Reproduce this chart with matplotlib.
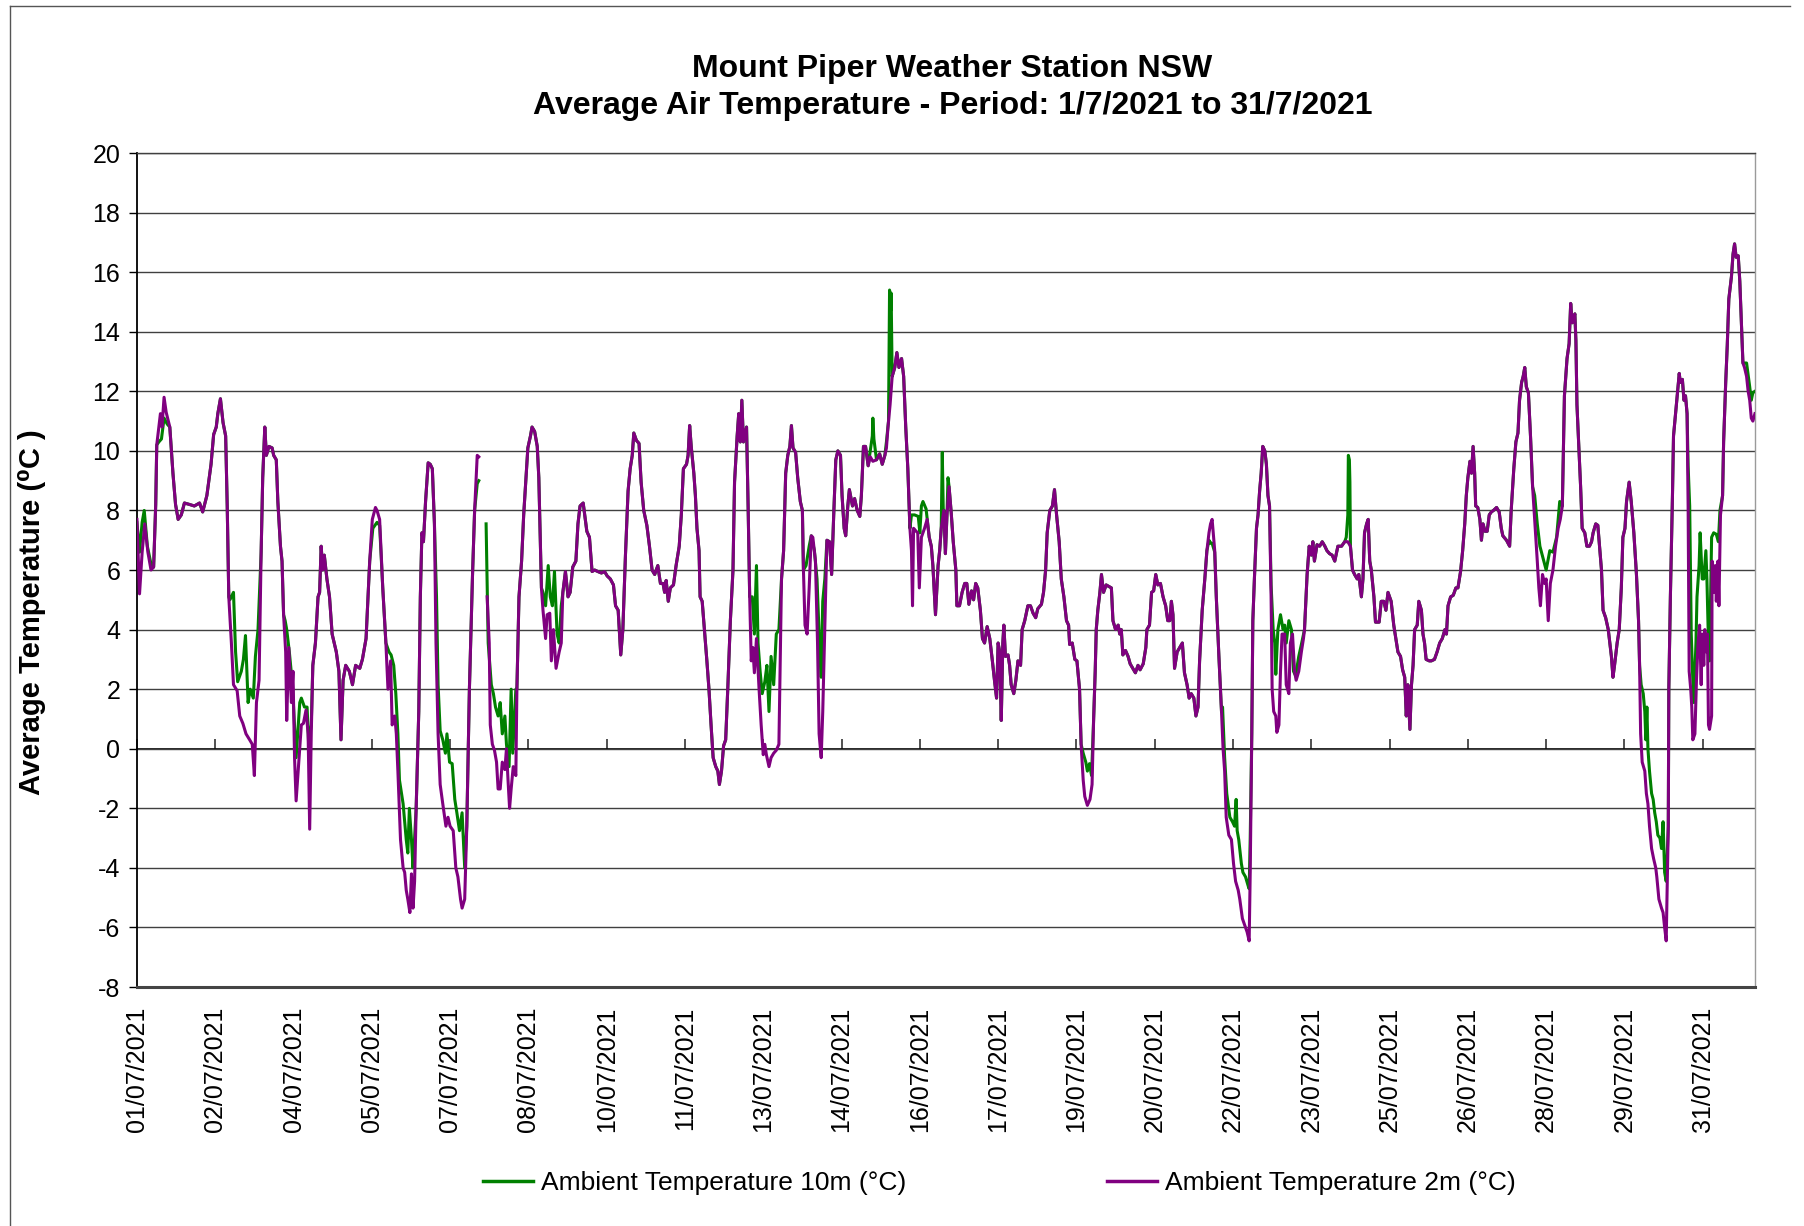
import datetime as dt
import numpy as np
import matplotlib
matplotlib.use("Agg")
import matplotlib.pyplot as plt
from matplotlib.lines import Line2D

plt.rcParams['font.family'] = ['Liberation Sans', 'DejaVu Sans']
plt.rcParams['axes.unicode_minus'] = False

# 2m temperature readings: (days since 1/7/2021 00:00, deg C)
temp_2m = [
    (0.00, 7.7), (0.05, 5.2), (0.10, 6.6), (0.15, 7.55), (0.21, 6.6), (0.27, 6.0), (0.32, 6.1),
    (0.36, 8.2), (0.38, 10.2), (0.45, 11.25), (0.48, 10.8), (0.52, 11.8), (0.56, 11.3), (0.63, 10.8),
    (0.69, 9.25), (0.74, 8.2), (0.79, 7.7), (0.85, 7.85), (0.91, 8.25), (1.01, 8.2), (1.10, 8.15),
    (1.20, 8.25), (1.26, 7.95), (1.34, 8.5), (1.42, 9.55), (1.47, 10.55), (1.52, 10.8), (1.55, 11.25),
    (1.60, 11.75), (1.65, 10.95), (1.70, 10.5), (1.73, 8.15), (1.76, 5.1), (1.81, 3.55), (1.85, 2.15),
    (1.92, 1.95), (1.97, 1.1), (2.03, 0.85), (2.09, 0.5), (2.16, 0.3), (2.21, 0.15), (2.25, -0.9),
    (2.29, 1.55), (2.34, 2.3), (2.38, 6.6), (2.41, 9.1), (2.45, 10.8), (2.48, 9.85), (2.53, 10.15),
    (2.59, 10.1), (2.62, 9.85), (2.67, 9.7), (2.70, 8.3), (2.75, 6.8), (2.78, 6.3), (2.81, 4.5),
    (2.85, 3.25), (2.87, 0.95), (2.91, 3.4), (2.96, 1.55), (2.99, 2.6), (3.02, -0.3), (3.05, -1.75),
    (3.10, -0.45), (3.15, 0.8), (3.19, 0.85), (3.24, 1.3), (3.28, 0.5), (3.31, -2.7), (3.34, 0.5),
    (3.37, 2.8), (3.42, 3.55), (3.47, 5.1), (3.50, 5.25), (3.53, 6.8), (3.56, 6.0), (3.59, 6.5),
    (3.64, 5.7), (3.69, 5.1), (3.74, 3.85), (3.82, 3.25), (3.87, 2.6), (3.91, 0.3), (3.95, 2.3),
    (4.00, 2.8), (4.07, 2.6), (4.13, 2.15), (4.19, 2.8), (4.27, 2.7), (4.32, 3.0), (4.39, 3.7),
    (4.46, 6.3), (4.51, 7.7), (4.57, 8.1), (4.60, 8.0), (4.65, 7.7), (4.71, 5.4), (4.77, 3.55),
    (4.81, 2.0), (4.86, 2.95), (4.89, 0.8), (4.94, 1.1), (4.97, 0.5), (5.00, -0.75), (5.05, -3.05),
    (5.10, -4.0), (5.13, -4.15), (5.16, -4.75), (5.19, -5.05), (5.23, -5.5), (5.26, -4.2), (5.29, -5.35),
    (5.32, -4.45), (5.35, -2.0), (5.40, 1.25), (5.43, 5.1), (5.46, 7.25), (5.49, 6.95), (5.53, 8.3),
    (5.58, 9.6), (5.62, 9.55), (5.66, 9.4), (5.70, 7.55), (5.73, 3.55), (5.77, 0.5), (5.81, -1.2),
    (5.86, -1.85), (5.92, -2.6), (5.96, -2.3), (6.00, -2.6), (6.06, -2.75), (6.11, -4.0), (6.15, -4.3),
    (6.20, -5.05), (6.23, -5.35), (6.28, -5.05), (6.32, -2.6), (6.37, 2.0), (6.43, 5.85), (6.47, 8.0),
    (6.52, 9.85), (6.55, 9.8), (6.62, np.nan), (6.71, 5.1), (6.75, 3.55), (6.77, 0.8), (6.81, 0.15),
    (6.85, -0.05), (6.89, -0.45), (6.92, -1.35), (6.96, -1.35), (7.00, -0.45), (7.05, -0.7), (7.08, 0.0),
    (7.11, -1.05), (7.14, -2.0), (7.17, -1.35), (7.21, -0.6), (7.26, -0.9), (7.28, 2.0), (7.32, 5.1),
    (7.37, 6.3), (7.41, 7.85), (7.45, 9.0), (7.49, 10.1), (7.54, 10.5), (7.57, 10.8), (7.62, 10.65),
    (7.67, 10.15), (7.70, 9.1), (7.75, 5.4), (7.78, 4.65), (7.83, 3.7), (7.86, 4.5), (7.91, 4.55),
    (7.94, 2.95), (7.98, 4.0), (8.03, 2.7), (8.09, 3.25), (8.13, 3.55), (8.16, 5.25), (8.21, 5.95),
    (8.26, 5.1), (8.30, 5.25), (8.35, 6.1), (8.41, 6.3), (8.45, 7.55), (8.49, 8.15), (8.55, 8.25),
    (8.58, 7.85), (8.62, 7.3), (8.67, 7.1), (8.72, 5.95), (8.77, 6.0), (8.83, 5.95), (8.90, 5.9),
    (8.96, 5.95), (9.01, 5.8), (9.07, 5.7), (9.13, 5.5), (9.17, 4.8), (9.22, 4.65), (9.27, 3.15),
    (9.31, 4.0), (9.36, 6.5), (9.41, 8.65), (9.45, 9.4), (9.49, 9.85), (9.52, 10.6), (9.57, 10.35),
    (9.62, 10.25), (9.66, 8.95), (9.71, 8.0), (9.77, 7.5), (9.82, 6.8), (9.87, 6.0), (9.92, 5.85),
    (9.98, 6.15), (10.03, 5.55), (10.08, 5.55), (10.11, 5.25), (10.14, 5.65), (10.18, 4.95), (10.22, 5.4),
    (10.28, 5.5), (10.33, 6.15), (10.39, 6.8), (10.43, 7.85), (10.47, 9.4), (10.53, 9.55), (10.56, 9.85),
    (10.59, 10.85), (10.62, 10.15), (10.67, 9.25), (10.70, 8.5), (10.73, 7.4), (10.77, 6.65), (10.79, 5.1),
    (10.83, 4.95), (10.88, 3.85), (10.92, 2.95), (10.96, 2.0), (11.00, 0.8), (11.04, -0.3), (11.09, -0.6),
    (11.13, -0.75), (11.16, -1.2), (11.20, -0.75), (11.24, 0.1), (11.28, 0.3), (11.32, 2.0), (11.37, 4.3),
    (11.42, 6.0), (11.45, 8.95), (11.50, 10.5), (11.53, 11.25), (11.56, 10.3), (11.59, 11.7), (11.62, 10.3),
    (11.68, 10.8), (11.71, 8.15), (11.74, 5.1), (11.77, 2.95), (11.80, 3.4), (11.83, 2.55), (11.87, 3.7),
    (11.92, 2.0), (11.96, 0.8), (12.00, -0.2), (12.03, 0.15), (12.06, -0.2), (12.11, -0.6), (12.15, -0.3),
    (12.20, -0.15), (12.25, -0.05), (12.30, 0.15), (12.33, 3.55), (12.35, 5.7), (12.39, 6.65), (12.43, 9.25),
    (12.47, 9.85), (12.51, 10.15), (12.54, 10.85), (12.57, 10.1), (12.62, 9.95), (12.66, 9.1), (12.71, 8.3),
    (12.75, 8.0), (12.77, 6.0), (12.80, 4.15), (12.84, 3.85), (12.88, 5.4), (12.92, 7.15), (12.95, 7.1),
    (13.00, 6.3), (13.04, 3.55), (13.07, 0.5), (13.11, -0.3), (13.14, 1.25), (13.18, 4.15), (13.22, 7.0),
    (13.27, 6.95), (13.31, 5.85), (13.35, 7.85), (13.39, 9.7), (13.43, 10.0), (13.48, 9.85), (13.51, 8.5),
    (13.55, 7.4), (13.58, 7.15), (13.62, 8.15), (13.65, 8.7), (13.71, 8.15), (13.75, 8.4), (13.80, 8.0),
    (13.85, 7.8), (13.88, 8.5), (13.92, 10.15), (13.96, 10.15), (14.01, 9.5), (14.05, 9.8), (14.10, 9.65),
    (14.17, 9.7), (14.23, 9.9), (14.28, 9.55), (14.33, 9.85), (14.36, 10.1), (14.39, 10.8), (14.43, 11.55),
    (14.47, 12.5), (14.52, 12.8), (14.56, 13.3), (14.60, 12.8), (14.65, 13.1), (14.69, 12.5), (14.73, 10.8),
    (14.77, 9.4), (14.81, 7.4), (14.84, 6.65), (14.86, 4.8), (14.88, 7.4), (14.93, 7.3), (14.96, 7.25),
    (14.99, 5.4), (15.03, 7.1), (15.09, 7.4), (15.14, 7.7), (15.18, 7.1), (15.22, 6.8), (15.25, 6.15),
    (15.30, 4.5), (15.35, 6.15), (15.38, 6.65), (15.41, 7.4), (15.46, 8.0), (15.49, 6.55), (15.52, 7.85),
    (15.56, 8.8), (15.60, 7.95), (15.64, 6.95), (15.69, 6.0), (15.71, 4.8), (15.76, 4.8), (15.81, 5.25),
    (15.86, 5.55), (15.90, 5.55), (15.94, 4.85), (15.99, 5.3), (16.03, 5.0), (16.07, 5.55), (16.11, 5.4),
    (16.16, 4.65), (16.20, 3.7), (16.24, 3.55), (16.29, 4.1), (16.34, 3.7), (16.39, 2.95), (16.43, 2.3),
    (16.47, 1.7), (16.50, 3.55), (16.53, 3.25), (16.56, 0.95), (16.59, 3.55), (16.61, 4.15), (16.64, 3.1),
    (16.69, 3.15), (16.72, 2.8), (16.75, 2.15), (16.80, 1.85), (16.84, 2.3), (16.88, 2.95), (16.93, 2.8),
    (16.96, 4.0), (17.01, 4.3), (17.07, 4.8), (17.12, 4.8), (17.17, 4.55), (17.22, 4.4), (17.26, 4.7),
    (17.33, 4.85), (17.37, 5.25), (17.41, 6.0), (17.44, 7.25), (17.49, 8.0), (17.54, 8.15), (17.58, 8.7),
    (17.62, 7.85), (17.67, 6.95), (17.71, 5.7), (17.76, 5.1), (17.81, 4.3), (17.85, 4.15), (17.87, 3.5),
    (17.92, 3.55), (17.97, 3.0), (18.01, 2.95), (18.06, 2.0), (18.09, 0.15), (18.13, -1.05), (18.16, -1.6),
    (18.21, -1.9), (18.26, -1.7), (18.30, -1.2), (18.33, 1.0), (18.36, 2.6), (18.38, 4.0), (18.41, 4.65),
    (18.45, 5.25), (18.48, 5.85), (18.52, 5.25), (18.57, 5.5), (18.62, 5.45), (18.67, 5.4), (18.70, 4.3),
    (18.75, 4.0), (18.80, 4.15), (18.83, 3.85), (18.86, 4.0), (18.89, 3.15), (18.94, 3.3), (18.99, 3.1),
    (19.03, 2.85), (19.08, 2.7), (19.13, 2.55), (19.18, 2.8), (19.22, 2.65), (19.28, 2.85), (19.33, 3.4),
    (19.35, 4.0), (19.40, 4.15), (19.44, 5.25), (19.48, 5.3), (19.52, 5.85), (19.56, 5.5), (19.61, 5.55),
    (19.66, 5.1), (19.71, 4.8), (19.75, 4.3), (19.79, 4.3), (19.82, 4.95), (19.85, 4.5), (19.88, 2.7),
    (19.93, 3.25), (19.98, 3.4), (20.03, 3.55), (20.07, 2.55), (20.12, 2.15), (20.16, 1.7), (20.20, 1.85),
    (20.25, 1.7), (20.29, 1.1), (20.33, 1.4), (20.36, 2.95), (20.41, 4.65), (20.46, 5.7), (20.50, 6.65),
    (20.54, 7.25), (20.57, 7.55), (20.60, 7.7), (20.65, 6.65), (20.68, 5.1), (20.73, 3.1), (20.78, 1.25),
    (20.81, 0.0), (20.84, -0.75), (20.87, -2.3), (20.92, -2.9), (20.97, -3.05), (21.01, -3.85), (21.05, -4.45),
    (21.10, -4.75), (21.13, -5.05), (21.18, -5.7), (21.22, -5.9), (21.27, -6.15), (21.31, -6.45), (21.33, -4.15),
    (21.36, 0.5), (21.38, 4.3), (21.41, 5.7), (21.45, 7.4), (21.48, 7.85), (21.51, 8.65), (21.54, 9.25),
    (21.57, 10.15), (21.61, 10.0), (21.64, 9.55), (21.67, 8.5), (21.70, 8.15), (21.73, 5.1), (21.75, 2.0),
    (21.78, 1.25), (21.82, 1.1), (21.84, 0.55), (21.88, 0.8), (21.91, 2.6), (21.94, 3.85), (21.99, 3.85),
    (22.02, 2.15), (22.07, 1.85), (22.10, 3.55), (22.14, 3.85), (22.18, 2.6), (22.21, 2.3), (22.26, 2.6),
    (22.31, 3.25), (22.35, 3.7), (22.37, 4.0), (22.42, 5.85), (22.46, 6.8), (22.50, 6.5), (22.53, 6.95),
    (22.56, 6.3), (22.61, 6.85), (22.66, 6.8), (22.71, 6.95), (22.76, 6.8), (22.80, 6.65), (22.85, 6.55),
    (22.90, 6.5), (22.95, 6.3), (23.01, 6.8), (23.08, 6.8), (23.14, 6.95), (23.20, 6.95), (23.25, 6.8),
    (23.29, 6.0), (23.33, 5.85), (23.38, 5.7), (23.41, 5.85), (23.46, 5.1), (23.49, 5.7), (23.52, 7.25),
    (23.56, 7.55), (23.59, 7.7), (23.62, 6.3), (23.65, 6.0), (23.70, 5.1), (23.73, 4.25), (23.80, 4.25),
    (23.84, 4.95), (23.89, 4.95), (23.93, 4.65), (23.97, 5.25), (24.00, 5.1), (24.03, 4.95), (24.08, 4.15),
    (24.12, 3.7), (24.16, 3.25), (24.21, 3.1), (24.25, 2.65), (24.29, 2.4), (24.32, 1.1), (24.35, 2.15),
    (24.39, 0.65), (24.42, 2.15), (24.45, 2.8), (24.48, 4.0), (24.53, 4.15), (24.56, 4.95), (24.61, 4.65),
    (24.64, 3.85), (24.67, 3.55), (24.70, 3.0), (24.76, 2.95), (24.80, 2.95), (24.86, 3.0), (24.91, 3.25),
    (24.96, 3.55), (25.01, 3.7), (25.06, 4.0), (25.09, 3.85), (25.12, 4.8), (25.17, 5.1), (25.22, 5.15),
    (25.27, 5.4), (25.31, 5.4), (25.36, 5.95), (25.40, 6.65), (25.44, 7.55), (25.47, 8.5), (25.50, 9.1),
    (25.54, 9.65), (25.57, 9.25), (25.60, 10.15), (25.63, 9.25), (25.65, 8.15), (25.69, 8.1), (25.73, 7.7),
    (25.76, 7.0), (25.79, 7.55), (25.83, 7.3), (25.87, 7.3), (25.91, 7.85), (25.95, 7.95), (25.99, 8.0),
    (26.05, 8.1), (26.10, 7.95), (26.14, 7.4), (26.17, 7.15), (26.24, 7.0), (26.30, 6.8), (26.33, 8.0),
    (26.38, 9.4), (26.42, 10.3), (26.46, 10.6), (26.49, 11.7), (26.53, 12.3), (26.56, 12.5), (26.59, 12.8),
    (26.62, 12.15), (26.66, 11.95), (26.70, 10.5), (26.74, 8.8), (26.78, 7.7), (26.83, 6.3), (26.86, 5.4),
    (26.89, 4.8), (26.93, 5.85), (26.97, 5.55), (27.00, 5.7), (27.04, 4.3), (27.08, 5.55), (27.13, 6.0),
    (27.18, 6.8), (27.23, 7.4), (27.27, 7.7), (27.31, 8.15), (27.35, 11.85), (27.40, 13.1), (27.44, 13.6),
    (27.47, 14.95), (27.50, 14.3), (27.55, 14.6), (27.57, 13.7), (27.59, 11.55), (27.63, 10.0), (27.66, 8.8),
    (27.69, 7.4), (27.74, 7.25), (27.78, 6.8), (27.83, 6.8), (27.87, 6.95), (27.90, 7.25), (27.95, 7.55),
    (27.99, 7.5), (28.03, 6.65), (28.06, 6.0), (28.09, 4.65), (28.14, 4.4), (28.19, 4.0), (28.22, 3.55),
    (28.25, 3.1), (28.28, 2.4), (28.31, 2.8), (28.36, 3.55), (28.40, 4.0), (28.44, 5.4), (28.47, 7.1),
    (28.51, 7.4), (28.54, 8.3), (28.59, 8.95), (28.63, 8.3), (28.68, 7.25), (28.73, 5.85), (28.77, 4.3),
    (28.79, 2.8), (28.81, 0.5), (28.84, -0.45), (28.89, -0.75), (28.92, -1.5), (28.95, -1.85), (28.98, -2.6),
    (29.02, -3.35), (29.06, -3.7), (29.10, -4.0), (29.12, -4.3), (29.16, -5.05), (29.21, -5.35), (29.24, -5.5),
    (29.27, -6.0), (29.30, -6.45), (29.34, -2.6), (29.35, 2.0), (29.38, 5.1), (29.42, 8.5), (29.44, 10.5),
    (29.48, 11.25), (29.51, 11.85), (29.55, 12.6), (29.57, 12.3), (29.61, 12.4), (29.64, 11.7), (29.67, 11.85),
    (29.70, 11.25), (29.72, 8.15), (29.74, 2.6), (29.77, 2.0), (29.79, 1.4), (29.81, 0.3), (29.85, 0.5),
    (29.88, 2.3), (29.91, 3.55), (29.94, 4.15), (29.97, 2.15), (29.99, 3.85), (30.02, 2.8), (30.04, 4.0),
    (30.07, 3.25), (30.09, 3.85), (30.11, 0.8), (30.13, 0.65), (30.17, 1.1), (30.18, 6.3), (30.21, 5.25),
    (30.24, 6.15), (30.26, 4.95), (30.29, 6.3), (30.31, 4.8), (30.34, 7.85), (30.38, 8.5), (30.40, 10.3),
    (30.44, 12.3), (30.47, 13.55), (30.50, 15.1), (30.55, 15.85), (30.58, 16.6), (30.61, 16.95), (30.64, 16.5),
    (30.68, 16.55), (30.71, 15.7), (30.74, 14.3), (30.77, 12.95), (30.80, 12.8), (30.84, 12.5), (30.87, 12.0),
    (30.90, 11.7), (30.93, 11.1), (30.96, 11.0), (31.00, 11.25),
]

# 10m readings where they part from the 2m trace (elsewhere both read the same)
temp_10m_diff = [
    [(0.00, 7.6), (0.05, 6.6), (0.10, 7.6), (0.14, 8.0), (0.20, 6.8), (0.27, 6.2), (0.32, 6.1)],
    [(0.42, 10.3), (0.47, 10.4), (0.52, 11.1), (0.58, 10.9), (0.63, 10.8)],
    [(1.76, 5.1), (1.78, 5.0), (1.85, 5.25), (1.89, 3.25), (1.93, 2.25), (2.00, 2.6), (2.04, 3.0),
     (2.08, 3.8), (2.13, 1.55), (2.17, 2.0), (2.23, 1.7), (2.27, 3.1), (2.32, 4.0), (2.38, 6.6)],
    [(2.81, 4.5), (2.84, 4.3), (2.87, 4.0), (2.92, 3.25), (2.98, 2.15), (3.05, -0.3), (3.12, 1.55),
     (3.15, 1.7), (3.21, 1.4), (3.26, 1.4), (3.29, 0.15), (3.34, 0.8), (3.37, 2.8)],
    [(4.46, 6.3), (4.52, 7.4), (4.60, 7.6), (4.65, 7.5), (4.71, 5.4)],
    [(4.77, 3.55), (4.83, 3.25), (4.87, 3.15), (4.92, 2.8), (4.96, 1.85), (5.00, 0.5), (5.03, -1.05),
     (5.10, -1.85), (5.13, -2.45), (5.16, -3.05), (5.19, -3.5), (5.22, -2.0), (5.26, -3.05), (5.29, -4.0),
     (5.35, -2.0)],
    [(5.70, 7.55), (5.74, 5.1), (5.77, 2.15), (5.81, 0.6), (5.86, 0.3), (5.91, -0.15), (5.94, 0.5),
     (5.99, -0.45), (6.04, -0.5), (6.09, -1.7), (6.13, -2.15), (6.18, -2.75), (6.23, -2.15), (6.28, -4.0),
     (6.32, -2.6)],
    [(6.47, 8.0), (6.52, 8.9), (6.55, 9.0), (6.62, np.nan), (6.69, 7.55), (6.73, 3.55), (6.79, 2.15),
     (6.83, 1.85), (6.87, 1.4), (6.92, 1.1), (6.96, 1.55), (7.00, 0.5), (7.05, 1.1), (7.08, 0.15),
     (7.13, -0.6), (7.17, 2.0), (7.20, -0.15), (7.26, 2.0), (7.28, 2.0)],
    [(7.75, 5.4), (7.78, 5.25), (7.83, 4.8), (7.88, 6.15), (7.92, 5.1), (7.96, 4.8), (8.00, 5.95),
     (8.05, 3.85), (8.09, 3.55), (8.13, 4.8), (8.21, 5.95)],
    [(11.74, 5.1), (11.79, 5.1), (11.83, 3.85), (11.87, 6.15), (11.90, 3.55), (11.94, 2.6), (11.98, 1.85),
     (12.03, 2.25), (12.07, 2.8), (12.11, 1.25), (12.15, 3.1), (12.20, 2.15), (12.25, 3.85), (12.30, 4.0),
     (12.35, 5.7)],
    [(12.77, 6.0), (12.82, 6.15), (12.88, 6.8), (12.92, 7.15), (12.98, 6.65), (13.03, 5.7), (13.07, 3.85),
     (13.11, 2.4), (13.14, 4.95), (13.18, 5.7), (13.22, 7.0)],
    [(14.01, 9.5), (14.05, 10.0), (14.09, 10.5), (14.10, 11.1), (14.12, 10.4), (14.17, 9.7)],
    [(14.33, 9.85), (14.36, 10.3), (14.40, 11.0), (14.42, 15.4), (14.44, 14.7), (14.45, 15.3), (14.47, 12.5)],
    [(14.81, 7.4), (14.84, 7.85), (14.90, 7.85), (14.97, 7.8), (15.00, 7.25), (15.03, 8.15), (15.06, 8.3),
     (15.12, 8.05), (15.18, 7.1)],
    [(15.41, 7.4), (15.43, 9.95), (15.45, 7.9), (15.46, 8.0)],
    [(15.52, 7.85), (15.54, 9.1), (15.56, 8.8)],
    [(18.09, 0.15), (18.13, -0.15), (18.18, -0.45), (18.21, -0.75), (18.25, -0.5), (18.29, -0.9), (18.33, 1.0)],
    [(20.54, 7.0), (20.57, 6.9), (20.60, 6.9), (20.65, 6.6)],
    [(20.78, 1.25), (20.80, 1.4), (20.84, -0.3), (20.88, -1.5), (20.94, -2.3), (20.99, -2.45), (21.03, -2.6),
     (21.06, -1.7), (21.08, -2.75), (21.11, -3.05), (21.16, -3.85), (21.19, -4.15), (21.24, -4.3),
     (21.29, -4.6), (21.31, -4.7), (21.33, -3.0), (21.36, 0.5)],
    [(21.70, 8.15), (21.73, 5.5), (21.77, 4.0), (21.80, 3.55), (21.82, 2.5), (21.86, 4.0), (21.91, 4.5),
     (21.96, 4.0), (21.99, 4.15), (22.02, 3.55), (22.07, 4.3), (22.12, 4.0), (22.16, 2.6), (22.20, 2.45),
     (22.26, 3.1), (22.31, 3.5), (22.37, 4.0)],
    [(23.14, 6.95), (23.17, 7.1), (23.20, 7.85), (23.21, 9.85), (23.23, 9.7), (23.24, 8.95), (23.25, 6.8)],
    [(26.74, 8.8), (26.78, 8.5), (26.83, 7.55), (26.88, 6.8), (26.94, 6.4), (27.00, 6.0), (27.07, 6.65),
     (27.13, 6.6), (27.20, 7.1), (27.26, 8.3), (27.31, 8.15)],
    [(28.79, 2.8), (28.82, 2.15), (28.86, 1.85), (28.89, 1.25), (28.91, 0.3), (28.93, 1.4), (28.95, 0.0),
     (28.98, -0.75), (29.02, -1.5), (29.05, -1.7), (29.08, -2.15), (29.11, -2.45), (29.14, -2.9),
     (29.18, -3.0), (29.21, -3.35), (29.24, -2.45), (29.27, -4.15), (29.30, -4.45), (29.34, -2.6)],
    [(29.70, 11.25), (29.72, 9.5), (29.75, 8.15), (29.78, 3.85), (29.81, 2.3), (29.83, 1.55), (29.87, 3.55),
     (29.89, 5.1), (29.93, 6.15), (29.95, 7.25), (29.99, 5.7), (30.02, 5.7), (30.06, 6.65), (30.08, 5.7),
     (30.11, 3.55), (30.13, 2.95), (30.17, 7.1), (30.21, 7.25), (30.26, 7.2), (30.30, 6.95), (30.33, 8.0),
     (30.38, 8.5)],
    [(30.77, 12.95), (30.84, 12.95), (30.90, 12.15), (30.93, 11.7), (30.96, 11.95), (31.00, 12.0)],
]

y_ticks = list(range(-8, 21, 2))
x_ticks = [i * 1.5 for i in range(21)]
start = dt.datetime(2021, 7, 1)
x_labels = [(start + dt.timedelta(days=t)).strftime('%d/%m/%Y') for t in x_ticks]


def build_10m(base, segments):
    pts = list(base)
    for seg in segments:
        t0, t1 = seg[0][0], seg[-1][0]
        pts = [p for p in pts if not (t0 <= p[0] <= t1)] + list(seg)
    pts.sort(key=lambda p: p[0])
    return np.array(pts).T


t2, v2 = np.array(temp_2m).T
t10, v10 = build_10m(temp_2m, temp_10m_diff)

green = '#008000'
purple = '#800080'

fig = plt.figure(figsize=(18.04, 12.26), dpi=100)
fig.subplots_adjust(left=0.0759, right=0.9728, top=0.8752, bottom=0.1949)
ax = fig.add_subplot(111)

ax.plot(t10, v10, color=green, lw=2.2, zorder=3)
ax.plot(t2, v2, color=purple, lw=2.2, zorder=4)

ax.set_xlim(0, 31)
ax.set_ylim(-8, 20)
ax.set_yticks(y_ticks)
ax.set_xticks(x_ticks)
ax.set_xticklabels(x_labels, rotation=90, fontsize=18)
ax.tick_params(axis='x', length=0, pad=14)
ax.tick_params(axis='y', labelsize=18, length=6, width=1, direction='out', pad=6)
ax.yaxis.grid(True, color='#404040', lw=1.0)
ax.set_axisbelow(True)

ax.spines['left'].set_color('black')
ax.spines['left'].set_linewidth(1.3)
ax.spines['bottom'].set_color('#444444')
ax.spines['bottom'].set_linewidth(2.2)
ax.spines['top'].set_color('#404040')
ax.spines['top'].set_linewidth(1.0)
ax.spines['right'].set_color('#9a9a9a')
ax.spines['right'].set_linewidth(1.0)

# category axis crosses at zero, with its tick marks there
secax = ax.secondary_xaxis(8 / 28)
secax.set_xticks(x_ticks)
secax.set_xticklabels([])
secax.tick_params(direction='in', length=7, width=1.2, color='#333333')
for s in ('top', 'bottom'):
    secax.spines[s].set_color('black')
    secax.spines[s].set_linewidth(1.2)

ax.set_ylabel('Average Temperature (\u2070C )', fontsize=21, fontweight='bold')
ax.yaxis.set_label_coords(-0.056, 0.45)

fig.text(0.528, 1 - 69 / 1226, 'Mount Piper Weather Station NSW',
         ha='center', va='center', fontsize=23, fontweight='bold')
fig.text(0.528, 1 - 106 / 1226, 'Average Air Temperature - Period: 1/7/2021 to 31/7/2021',
         ha='center', va='center', fontsize=23, fontweight='bold')

handles = [Line2D([], [], color=green, lw=2.5), Line2D([], [], color=purple, lw=2.5)]
fig.legend(handles, ['Ambient Temperature 10m (\u00b0C)', 'Ambient Temperature 2m (\u00b0C)'],
           loc='center', bbox_to_anchor=(0.554, 1 - 1183 / 1226), ncol=2, frameon=False,
           fontsize=19, handlelength=1.9, handletextpad=0.3, columnspacing=7.6)

# outer chart border (top and left edges visible)
fig.add_artist(Line2D([10 / 1804, 10 / 1804], [0, 1 - 6 / 1226], color='#555555', lw=1.0))
fig.add_artist(Line2D([10 / 1804, 1790 / 1804], [1 - 6 / 1226, 1 - 6 / 1226], color='#555555', lw=1.0))

fig.savefig('out.png', dpi=100)
